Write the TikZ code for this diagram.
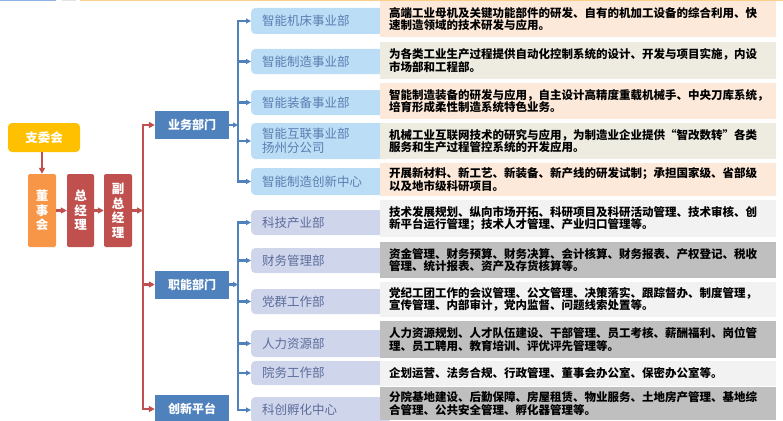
\documentclass[tikz,border=0pt]{standalone}
\usepackage{fontspec}
\setmainfont{Noto Sans CJK SC}
\usepackage{xcolor}
\usetikzlibrary{positioning,arrows.meta}

\definecolor{partygold}{HTML}{FFC000}
\definecolor{boardorange}{HTML}{F79646}
\definecolor{mgmtred}{HTML}{C0504D}
\definecolor{deptblue}{HTML}{4F81BD}
\definecolor{bizfill}{HTML}{BBDEF6}
\definecolor{bizlabel}{HTML}{5B7DB1}
\definecolor{funcfill}{HTML}{CFD6EC}
\definecolor{funclabel}{HTML}{5C6C9A}
\definecolor{peach}{HTML}{FDE9D9}
\definecolor{beige}{HTML}{EEECE1}
\definecolor{lightgray}{HTML}{F2F2F2}
\definecolor{midgray}{HTML}{BFBFBF}
\definecolor{topblue}{HTML}{8DB4E2}
\definecolor{topgray}{HTML}{E3E3E3}
\definecolor{toporange}{HTML}{FAD08A}

\begin{document}
\begin{tikzpicture}[x=1pt, y=-1pt,
  lead/.style={text=white, font=\bfseries\fontsize{12.5}{14.5}\selectfont, align=center, inner sep=0pt, rounded corners=2pt},
  headbox/.style={fill=deptblue, text=white, font=\bfseries\fontsize{12}{14}\selectfont, minimum width=74pt, minimum height=28pt, inner sep=0pt},
  subbiz/.style={anchor=west, fill=bizfill, text=bizlabel, rounded corners=4pt, font=\fontsize{12.5}{14}\selectfont, text width=117pt, inner xsep=11pt, inner ysep=0pt, align=left},
  subfunc/.style={subbiz, fill=funcfill, text=funclabel},
  desc/.style={anchor=west, text width=378pt, inner xsep=9pt, inner ysep=0pt, align=left, font=\bfseries\fontsize{11.5}{12.5}\selectfont},
  redline/.style={draw=mgmtred, line width=2.2pt, -{Triangle[length=6pt,width=6pt]}},
  blueline/.style={draw=deptblue, line width=2.2pt, -{Triangle[length=5pt,width=5pt]}}]

\useasboundingbox (0,0) rectangle (783,420);

% thin strip along the top edge
\draw[topblue, line width=1pt] (0,0.5) -- (56,0.5);
\draw[topgray, line width=1pt] (62,0.5) -- (76,0.5);
\draw[toporange, line width=1pt] (80,0.5) -- (783,0.5);

% leadership
\node[lead, fill=partygold, minimum width=72pt, minimum height=29pt, rounded corners=4pt] (party) at (44,137.5) {支委会};
\node[lead, fill=boardorange, minimum width=28pt, minimum height=73pt] (board) at (42,210.5) {董\\事\\会};
\node[lead, fill=mgmtred, minimum width=27pt, minimum height=73pt] (gm) at (80.5,210.5) {总\\经\\理};
\node[lead, fill=mgmtred, minimum width=28pt, minimum height=73pt] (vgm) at (118,210.5) {副\\总\\经\\理};

% departments
\node[headbox] (biz) at (192,125) {业务部门};
\node[headbox] (func) at (192,284.5) {职能部门};
\node[headbox] (innov) at (192,409) {创新平台};

% business units
\node[subbiz, minimum height=26pt] (biz1) at (251,21) {智能机床事业部};
\node[subbiz, minimum height=25pt] (biz2) at (251,61.5) {智能制造事业部};
\node[subbiz, minimum height=25pt] (biz3) at (251,102.5) {智能装备事业部};
\node[subbiz, minimum height=36pt] (biz4) at (251,141) {智能互联事业部\\扬州分公司};
\node[subbiz, minimum height=27pt] (biz5) at (251,181.5) {智能制造创新中心};

% functional units
\node[subfunc, minimum height=25pt] (func1) at (251,222.5) {科技产业部};
\node[subfunc, minimum height=25pt] (func2) at (251,260.5) {财务管理部};
\node[subfunc, minimum height=25pt] (func3) at (251,301.5) {党群工作部};
\node[subfunc, minimum height=27pt] (func4) at (251,343.5) {人力资源部};
\node[subfunc, minimum height=24pt] (func5) at (251,373) {院务工作部};
\node[subfunc, minimum height=26pt] (func6) at (251,410) {科创孵化中心};

% descriptions
\node[desc, fill=peach, minimum height=36pt] (text1) at (380,19) {高端工业母机及关键功能部件的研发、自有的机加工设备的综合利用、快\\速制造领域的技术研发与应用。};
\node[desc, fill=beige, minimum height=37pt] (text2) at (380,60.5) {为各类工业生产过程提供自动化控制系统的设计、开发与项目实施，内设\\市场部和工程部。};
\node[desc, fill=peach, minimum height=36pt] (text3) at (380,101) {智能制造装备的研发与应用，自主设计高精度重载机械手、中央刀库系统，\\培育形成柔性制造系统特色业务。};
\node[desc, fill=beige, minimum height=36pt] (text4) at (380,141) {机械工业互联网技术的研究与应用，为制造业企业提供“智改数转”各类\\服务和生产过程管控系统的开发应用。};
\node[desc, fill=peach, minimum height=33pt] (text5) at (380,179.5) {开展新材料、新工艺、新装备、新产线的研发试制；承担国家级、省部级\\以及地市级科研项目。};
\node[desc, fill=lightgray, minimum height=37pt] (text6) at (380,218.5) {技术发展规划、纵向市场开拓、科研项目及科研活动管理、技术审核、创\\新平台运行管理；技术人才管理、产业归口管理等。};
\node[desc, fill=midgray, minimum height=36pt] (text7) at (380,260) {资金管理、财务预算、财务决算、会计核算、财务报表、产权登记、税收\\管理、统计报表、资产及存货核算等。};
\node[desc, fill=lightgray, minimum height=35pt] (text8) at (380,299.5) {党纪工团工作的会议管理、公文管理、决策落实、跟踪督办、制度管理，\\宣传管理、内部审计，党内监督、问题线索处置等。};
\node[desc, fill=midgray, minimum height=37pt] (text9) at (380,339.5) {人力资源规划、人才队伍建设、干部管理、员工考核、薪酬福利、岗位管\\理、员工聘用、教育培训、评优评先管理等。};
\node[desc, fill=lightgray, minimum height=25pt] (text10) at (380,373.5) {企划运营、法务合规、行政管理、董事会办公室、保密办公室等。};
\node[desc, fill=midgray, minimum height=33pt] (text11) at (380,403.5) {分院基地建设、后勤保障、房屋租赁、物业服务、土地房产管理、基地综\\合管理、公共安全管理、孵化器管理等。};

% leadership chain
\draw[redline] (party.south -| board.north) -- (board.north);
\draw[redline] (board) -- (gm);
\draw[redline] (gm) -- (vgm);

\coordinate (redbus) at (143,210.5);
\draw[redline] (vgm) -- (redbus);
\draw[redline] (redbus) |- (biz);
\draw[redline] (redbus) |- (func);
\draw[redline] (redbus) |- (innov);

% business branch
\coordinate (bizbus) at (238,125);
\draw[blueline] (biz) -- (bizbus);
\draw[blueline] (bizbus) |- (biz1);
\draw[blueline] (bizbus) |- (biz2);
\draw[blueline] (bizbus) |- (biz3);
\draw[blueline] (bizbus) |- (biz4);
\draw[blueline] (bizbus) |- (biz5);

% functional branch
\coordinate (funcbus) at (238,284.5);
\draw[blueline] (func) -- (funcbus);
\draw[blueline] (funcbus) |- (func1);
\draw[blueline] (funcbus) |- (func2);
\draw[blueline] (funcbus) |- (func3);
\draw[blueline] (funcbus) |- (func4);
\draw[blueline] (funcbus) |- (func5);
\draw[blueline] (funcbus) |- (func6);

\end{tikzpicture}
\end{document}
